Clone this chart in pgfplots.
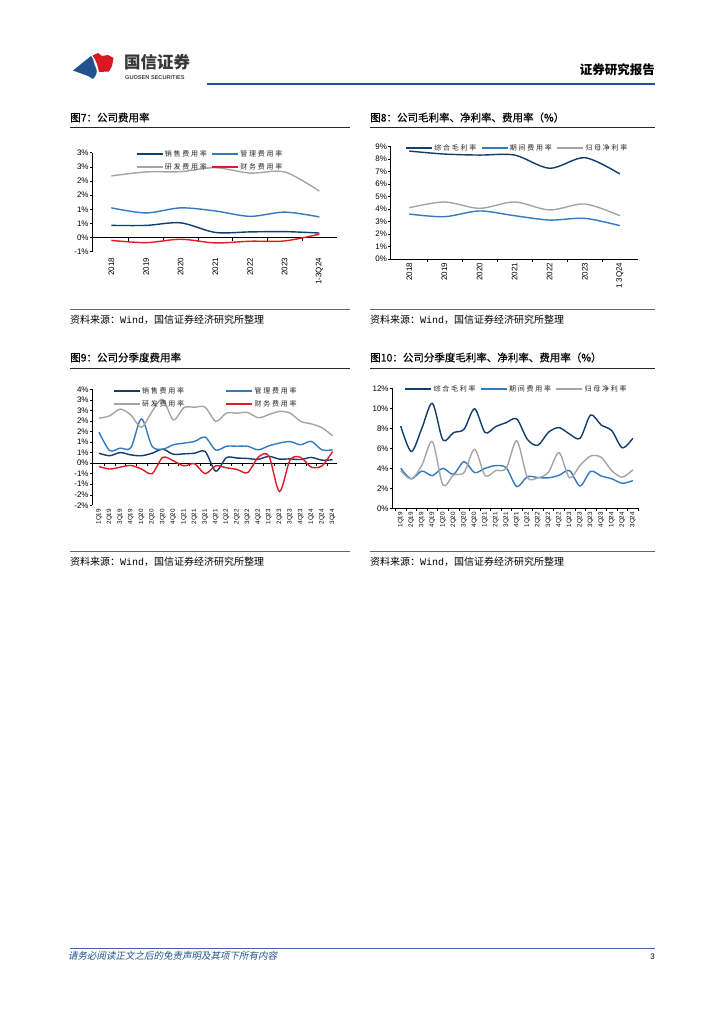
\documentclass[border=0pt]{standalone}
\usepackage{fontspec}
\usepackage{pgfplots}
\usepackage{pgfplotstable}
\pgfplotsset{compat=1.18}
\setmainfont{Liberation Sans}
\newfontfamily\cjk{Noto Sans CJK SC}
\newfontfamily\cjkt[FakeBold=0.35]{Noto Sans CJK SC}
\newfontfamily\cjkleg[LetterSpace=25]{Noto Sans CJK SC}
\newfontfamily\cjkslant[FakeSlant=0.2]{Noto Sans CJK SC}
\newfontfamily\mono{Liberation Mono}
\definecolor{dblue}{RGB}{16,62,110}
\definecolor{mblue}{RGB}{52,122,192}
\definecolor{lgray}{RGB}{165,165,165}
\definecolor{cred}{RGB}{226,28,38}
\definecolor{hblue}{RGB}{31,82,142}
\definecolor{lred}{RGB}{215,25,35}
\newcommand{\legf}{\cjkleg\fontsize{7}{7.5}\selectfont\color{black!85}}

\pgfplotstableread{
x xs mg rd fin
0 0.43 1.05 2.18 -0.10
1 0.43 0.87 2.32 -0.18
2 0.52 1.05 2.33 -0.06
3 0.18 0.94 2.47 -0.19
4 0.20 0.75 2.28 -0.13
5 0.21 0.90 2.32 -0.12
6 0.16 0.73 1.64 0.12
}\tabA

\pgfplotstableread{
x gm fee np
0 8.65 3.60 4.11
1 8.41 3.39 4.57
2 8.33 3.85 4.06
3 8.33 3.47 4.57
4 7.27 3.12 3.93
5 8.12 3.26 4.41
6 6.81 2.67 3.47
}\tabB

\pgfplotstableread{
x xs mg rd fin
0 0.47 1.47 2.13 -0.16
1 0.35 0.60 2.24 -0.28
2 0.50 0.71 2.56 -0.19
3 0.39 0.73 2.28 -0.11
4 0.35 2.10 1.70 -0.28
5 0.47 0.80 2.45 -0.50
6 0.66 0.66 3.03 0.27
7 0.42 0.87 2.05 0.11
8 0.44 0.95 2.63 -0.13
9 0.47 1.03 2.65 -0.03
10 0.55 1.23 2.65 -0.50
11 -0.38 0.62 1.98 -0.13
12 0.26 0.80 2.37 -0.22
13 0.24 0.80 2.37 -0.30
14 0.22 0.80 2.40 -0.45
15 0.18 0.63 2.15 0.28
16 0.32 0.82 2.30 0.34
17 0.19 0.95 2.45 -1.35
18 0.20 1.02 2.37 0.15
19 0.17 0.87 1.98 0.27
20 0.27 1.03 1.86 -0.19
21 0.14 0.63 1.68 -0.13
22 0.16 0.63 1.30 0.55
}\tabC

\pgfplotstableread{
x gm fee np
0 8.23 4.00 3.77
1 5.67 2.95 2.93
2 8.00 3.72 4.30
3 10.50 3.27 6.67
4 6.83 4.00 2.33
5 7.57 3.40 3.33
6 7.90 4.67 3.57
7 9.95 3.57 5.90
8 7.57 4.00 3.27
9 8.17 4.27 3.77
10 8.57 4.05 4.00
11 8.93 2.17 6.75
12 6.90 3.17 3.10
13 6.30 3.07 3.05
14 7.60 3.05 3.60
15 8.07 3.30 5.57
16 7.43 3.77 3.05
17 7.00 2.23 4.30
18 9.33 3.70 5.23
19 8.33 3.23 5.10
20 7.77 2.95 3.77
21 6.05 2.50 3.12
22 7.00 2.77 3.85
}\tabD

\pgfplotsset{
  pg/.style={scale only axis, clip=false, axis lines*=left,
    axis line style={-, black, line width=0.5pt},
    tick align=outside, major tick length=2.5pt,
    tick style={black, line width=0.5pt},
    major x tick style={draw=none},
    yticklabel style={font=\fontsize{8}{9}\selectfont, inner sep=1pt},
    legend cell align=left,
    legend image code/.code={\draw[##1, line width=1.5pt] (0pt,0pt) -- (26pt,0pt);},
  },
  ser/.style={line width=1.4pt, smooth, no markers},
}

\begin{document}
\begin{tikzpicture}
\fill[white] (0pt,0pt) rectangle (724pt,-1024pt);

% ---------- header ----------
\fill[hblue] (73pt,-70.5pt) -- (91pt,-56pt) .. controls (95pt,-60pt) and (93pt,-64pt) .. (96pt,-68pt)
  .. controls (98pt,-72pt) and (96pt,-76pt) .. (93pt,-79pt) -- (88pt,-76pt) -- cycle;
\fill[lred] (92.5pt,-55.5pt) -- (98pt,-53pt) -- (102pt,-56pt) -- (108pt,-55pt) -- (113.5pt,-58pt)
  -- (112pt,-66pt) -- (109pt,-71.5pt) -- (99pt,-72pt) .. controls (98pt,-66pt) and (96pt,-60pt) .. cycle;
\node[anchor=west, inner sep=0pt, text=black!78] at (124pt,-62pt) {\cjk\bfseries\fontsize{16.5}{17}\selectfont 国信证券};
\node[anchor=west, inner sep=0pt, text=black!75] at (125pt,-78pt) {\bfseries\fontsize{5.6}{6}\selectfont GUOSEN SECURITIES};
\node[anchor=east, inner sep=0pt] at (655pt,-70pt) {\cjk\bfseries\fontsize{12.5}{13}\selectfont 证券研究报告};
\draw[hblue, line width=2.5pt] (207pt,-84pt) -- (655pt,-84pt);

% ---------- titles / rules / sources ----------
\node[anchor=west, inner sep=0pt] at (70pt,-117.5pt) {\cjkt\fontsize{10.5}{12}\selectfont 图7：公司费用率};
\node[anchor=west, inner sep=0pt] at (370pt,-117.5pt) {\cjkt\fontsize{10.5}{12}\selectfont 图8：公司毛利率、净利率、费用率（\%）};
\node[anchor=west, inner sep=0pt] at (70pt,-357.5pt) {\cjkt\fontsize{10.5}{12}\selectfont 图9：公司分季度费用率};
\node[anchor=west, inner sep=0pt] at (370pt,-357.5pt) {\cjkt\fontsize{10.5}{12}\selectfont 图10：公司分季度毛利率、净利率、费用率（\%）};
\draw[black!85, line width=0.8pt] (70pt,-127.5pt) -- (350pt,-127.5pt);
\draw[black!85, line width=0.8pt] (370pt,-127.5pt) -- (655pt,-127.5pt);
\draw[black!85, line width=0.8pt] (70pt,-368pt) -- (350pt,-368pt);
\draw[black!85, line width=0.8pt] (370pt,-368pt) -- (655pt,-368pt);
\draw[black!60, line width=1pt] (70pt,-309pt) -- (350pt,-309pt);
\draw[black!60, line width=1pt] (370pt,-309pt) -- (655pt,-309pt);
\draw[black!60, line width=1pt] (70pt,-551pt) -- (350pt,-551pt);
\draw[black!60, line width=1pt] (370pt,-551pt) -- (655pt,-551pt);
\node[anchor=west, inner sep=0pt] at (70pt,-320pt) {\cjk\fontsize{10}{12}\selectfont 资料来源：{\mono Wind}，国信证券经济研究所整理};
\node[anchor=west, inner sep=0pt] at (370pt,-320pt) {\cjk\fontsize{10}{12}\selectfont 资料来源：{\mono Wind}，国信证券经济研究所整理};
\node[anchor=west, inner sep=0pt] at (70pt,-562pt) {\cjk\fontsize{10}{12}\selectfont 资料来源：{\mono Wind}，国信证券经济研究所整理};
\node[anchor=west, inner sep=0pt] at (370pt,-562pt) {\cjk\fontsize{10}{12}\selectfont 资料来源：{\mono Wind}，国信证券经济研究所整理};

% ---------- footer ----------
\draw[hblue!85, line width=0.8pt] (70pt,-948pt) -- (655pt,-948pt);
\node[anchor=west, inner sep=0pt, text=hblue] at (68pt,-956pt) {\cjkslant\fontsize{9.5}{10}\selectfont 请务必阅读正文之后的免责声明及其项下所有内容};
\node[anchor=east, inner sep=0pt] at (655pt,-957pt) {\fontsize{8}{9}\selectfont 3};

% ---------- chart 7 ----------
\begin{axis}[pg, at={(92.3pt,-251.7pt)}, anchor=south west,
  width=244.4pt, height=99pt,
  xmin=-0.55, xmax=6.5, ymin=-0.5, ymax=3,
  x axis line style={draw=none},
  xtick={0,...,6}, xticklabels={2018,2019,2020,2021,2022,2023,1-3Q24},
  xticklabel style={rotate=90, anchor=east, font=\fontsize{8}{9}\selectfont, inner sep=1pt},
  xticklabel shift=2.5pt,
  ytick={-0.5,0,0.5,1,1.5,2,2.5,3},
  yticklabels={-1\%,0\%,1\%,1\%,2\%,2\%,3\%,3\%},
  legend columns=2,
  legend style={at={(0.177,1.04)}, anchor=north west, draw=none, fill=none, inner sep=0pt,
    font=\legf, row sep=2.3pt, nodes={inner sep=1.5pt},
    /tikz/every even column/.append style={column sep=3pt}},
]
\draw[black, line width=0.5pt] (axis cs:-0.55,0) -- (axis cs:6.5,0);
\pgfplotsinvokeforeach{0.5,1.5,2.5,3.5,4.5,5.5}{\draw[black, line width=0.5pt] (axis cs:#1,0) -- ++(0pt,-3pt);}
\addplot[ser, dblue] table[x=x, y=xs] {\tabA};
\addlegendentry{销售费用率}
\addplot[ser, mblue] table[x=x, y=mg] {\tabA};
\addlegendentry{管理费用率}
\addplot[ser, lgray] table[x=x, y=rd] {\tabA};
\addlegendentry{研发费用率}
\addplot[ser, cred] table[x=x, y=fin] {\tabA};
\addlegendentry{财务费用率}
\end{axis}

% ---------- chart 8 ----------
\begin{axis}[pg, at={(390.7pt,-259pt)}, anchor=south west,
  width=247.6pt, height=112.3pt,
  xmin=-0.53, xmax=6.525, ymin=0, ymax=9,
  xtick={0,...,6}, xticklabels={2018,2019,2020,2021,2022,2023,1 3Q24},
  xticklabel style={rotate=90, anchor=east, font=\fontsize{8}{9}\selectfont, inner sep=1pt},
  ytick={0,...,9},
  yticklabels={0\%,1\%,2\%,3\%,4\%,5\%,6\%,7\%,8\%,9\%},
  legend columns=3,
  legend style={at={(0.0586,1.038)}, anchor=north west, draw=none, fill=none, inner sep=0pt,
    font=\legf, nodes={inner sep=1.5pt},
    /tikz/every even column/.append style={column sep=3pt}},
]
\pgfplotsinvokeforeach{0.5,1.5,2.5,3.5,4.5,5.5}{\draw[black, line width=0.5pt] (axis cs:#1,0) -- ++(0pt,-3pt);}
\addplot[ser, dblue] table[x=x, y=gm] {\tabB};
\addlegendentry{综合毛利率}
\addplot[ser, mblue] table[x=x, y=fee] {\tabB};
\addlegendentry{期间费用率}
\addplot[ser, lgray] table[x=x, y=np] {\tabB};
\addlegendentry{归母净利率}
\end{axis}

% ---------- chart 9 ----------
\begin{axis}[pg, at={(92.3pt,-505.3pt)}, anchor=south west,
  width=244.4pt, height=116pt,
  xmin=-0.63, xmax=22.39, ymin=-2, ymax=3.5,
  x axis line style={draw=none},
  xtick={0,...,22},
  xticklabels={1Q19,2Q19,3Q19,4Q19,1Q20,2Q20,3Q20,4Q20,1Q21,2Q21,3Q21,4Q21,1Q22,2Q22,3Q22,4Q22,1Q23,2Q23,3Q23,4Q23,1Q24,2Q24,3Q24},
  xticklabel style={rotate=90, anchor=east, font=\fontsize{6.3}{7}\selectfont, inner sep=1pt},
  ytick={-2,-1.5,-1,-0.5,0,0.5,1,1.5,2,2.5,3,3.5},
  yticklabels={-2\%,-2\%,-1\%,-1\%,0\%,1\%,1\%,2\%,2\%,3\%,3\%,4\%},
  legend columns=2,
  legend style={at={(0.084,1.03)}, anchor=north west, draw=none, fill=none, inner sep=0pt,
    font=\legf, row sep=2.3pt, nodes={inner sep=1.5pt},
    /tikz/every even column/.append style={column sep=40pt}},
]
\draw[black, line width=0.5pt] (axis cs:-0.63,0) -- (axis cs:22.39,0);
\pgfplotsinvokeforeach{0.5,1.5,...,21.5}{\draw[black, line width=0.5pt] (axis cs:#1,0) -- ++(0pt,-2.5pt);}
\addplot[ser, dblue] table[x=x, y=xs] {\tabC};
\addlegendentry{销售费用率}
\addplot[ser, mblue] table[x=x, y=mg] {\tabC};
\addlegendentry{管理费用率}
\addplot[ser, lgray] table[x=x, y=rd] {\tabC};
\addlegendentry{研发费用率}
\addplot[ser, cred] table[x=x, y=fin] {\tabC};
\addlegendentry{财务费用率}
\end{axis}

% ---------- chart 10 ----------
\begin{axis}[pg, at={(392.3pt,-508.3pt)}, anchor=south west,
  width=246pt, height=120pt,
  xmin=-0.8, xmax=22.52, ymin=0, ymax=12,
  xtick={0,...,22},
  xticklabels={1Q19,2Q19,3Q19,4Q19,1Q20,2Q20,3Q20,4Q20,1Q21,2Q21,3Q21,4Q21,1Q22,2Q22,3Q22,4Q22,1Q23,2Q23,3Q23,4Q23,1Q24,2Q24,3Q24},
  xticklabel style={rotate=90, anchor=east, font=\fontsize{6.3}{7}\selectfont, inner sep=1pt},
  ytick={0,2,4,6,8,10,12},
  yticklabels={0\%,2\%,4\%,6\%,8\%,10\%,12\%},
  legend columns=3,
  legend style={at={(0.0496,1.04)}, anchor=north west, draw=none, fill=none, inner sep=0pt,
    font=\legf, nodes={inner sep=1.5pt},
    /tikz/every even column/.append style={column sep=3pt}},
]
\pgfplotsinvokeforeach{-0.5,0.5,...,22.5}{\draw[black, line width=0.5pt] (axis cs:#1,0) -- ++(0pt,-3pt);}
\addplot[ser, dblue] table[x=x, y=gm] {\tabD};
\addlegendentry{综合毛利率}
\addplot[ser, mblue] table[x=x, y=fee] {\tabD};
\addlegendentry{期间费用率}
\addplot[ser, lgray] table[x=x, y=np] {\tabD};
\addlegendentry{归母净利率}
\end{axis}
\end{tikzpicture}
\end{document}
